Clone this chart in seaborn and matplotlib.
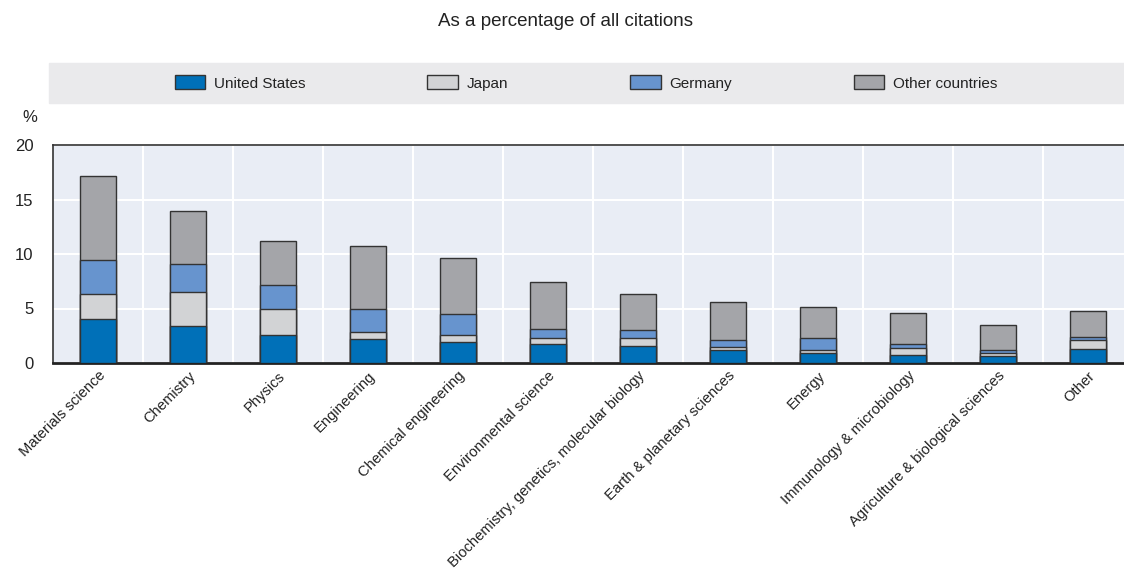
import numpy as np
import pandas as pd
import matplotlib
matplotlib.use("Agg")
import matplotlib.pyplot as plt
import seaborn as sns
from matplotlib.patches import Patch, Rectangle
from matplotlib.ticker import FixedLocator

# data (% of all citations)
fields = ["Materials science", "Chemistry", "Physics", "Engineering",
          "Chemical engineering", "Environmental science",
          "Biochemistry, genetics, molecular biology", "Earth & planetary sciences",
          "Energy", "Immunology & microbiology", "Agriculture & biological sciences",
          "Other"]
us = [4.03, 3.39, 2.60, 2.17, 1.89, 1.77, 1.56, 1.19, 0.95, 0.73, 0.67, 1.25]
japan = [2.32, 3.14, 2.38, 0.67, 0.71, 0.52, 0.76, 0.25, 0.21, 0.67, 0.25, 0.83]
germany = [3.09, 2.51, 2.20, 2.14, 1.89, 0.82, 0.73, 0.67, 1.16, 0.37, 0.30, 0.30]
other = [7.72, 4.94, 3.97, 5.77, 5.10, 4.34, 3.30, 3.45, 2.81, 2.78, 2.23, 2.38]

series = ["United States", "Japan", "Germany", "Other countries"]
colors = ["#0070B8", "#D2D3D5", "#6794CE", "#A4A5A9"]

df = pd.DataFrame({"field": fields, "United States": us, "Japan": japan,
                   "Germany": germany, "Other countries": other})
cum = df[series].cumsum(axis=1)   # stacked tops

sns.set_style("white")
plt.rcParams["font.family"] = ["Liberation Sans", "DejaVu Sans"]
plt.rcParams["text.color"] = "#222222"

fig = plt.figure(figsize=(11.24, 5.72), dpi=100)
ax = fig.add_axes([53 / 1124, 1 - 363 / 572, 1 - 53 / 1124, 218 / 572])
ax.set_facecolor("#E9EDF5")

# draw tallest first, then overlay the lower segments
for s, c in zip(series[::-1], colors[::-1]):
    sns.barplot(x=df["field"], y=cum[s], color=c, saturation=1, width=0.4,
                edgecolor="#333333", linewidth=1, ax=ax, zorder=3)

ax.set_xlim(-0.5, 11.4)
ax.set_ylim(0, 20)
ax.set_yticks([0, 5, 10, 15, 20])
ax.set_xlabel("")
ax.set_ylabel("")
ax.grid(False)
ax.yaxis.grid(True, color="white", linewidth=1.5, zorder=0)
ax.xaxis.set_minor_locator(FixedLocator(np.arange(0.5, 11.5, 1)))
ax.grid(True, which="minor", axis="x", color="white", linewidth=1.5, zorder=0)
ax.set_axisbelow(True)

ax.tick_params(axis="x", which="major", length=0, pad=4, labelsize=10.6, colors="#222222")
ax.tick_params(axis="x", which="minor", direction="in", length=4, width=1.2, color="#222222")
ax.tick_params(axis="y", length=0, pad=14, labelsize=12, colors="#222222")
plt.setp(ax.get_xticklabels(), rotation=45, ha="right", rotation_mode="anchor")

for side in ["top", "left"]:
    ax.spines[side].set_color("#333333")
    ax.spines[side].set_linewidth(1.2)
ax.spines["bottom"].set_color("#222222")
ax.spines["bottom"].set_linewidth(2)
ax.spines["right"].set_visible(False)

# legend band
fig.patches.append(Rectangle((49 / 1124, 1 - 103 / 572), 1 - 49 / 1124, 40 / 572,
                             transform=fig.transFigure, color="#EAEAEC", zorder=0))
handles = [Patch(facecolor=c, edgecolor="#333333", linewidth=1) for c in colors]
fig.legend(handles, series, ncol=4, loc="center", bbox_to_anchor=(586 / 1124, 1 - 83 / 572),
           frameon=False, fontsize=11, handlelength=2.0, handleheight=1.0,
           handletextpad=0.55, columnspacing=8.0)

fig.text(565 / 1124, 1 - 22 / 572, "As a percentage of all citations", ha="center",
         va="center", fontsize=13.5)
fig.text(30 / 1124, 1 - 118 / 572, "%", ha="center", va="center", fontsize=12)

fig.savefig("out.png", dpi=100)
